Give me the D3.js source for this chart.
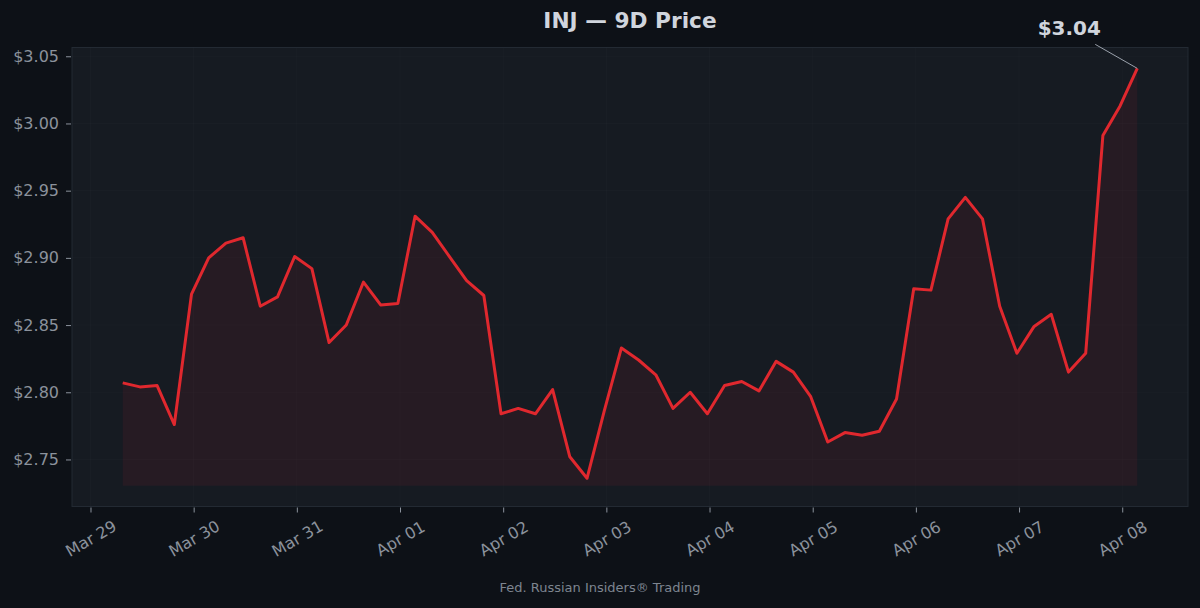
<!DOCTYPE html>
<html>
<head>
<meta charset="utf-8">
<script src="https://cdn.jsdelivr.net/npm/d3@7"></script>
<style>
	html, body { margin: 0; padding: 0; background: #0d1117; }
	svg { display: block; font-family: "DejaVu Sans", sans-serif; }
</style>
</head>
<body>
<svg id="chart" width="1200" height="608"></svg>
<script>
// INJ price, one sample every 4 hours
var symbol = 'INJ';
var startTime = '2025-03-29T07:30:00Z';
var stepHours = 4;
var prices = [
	2.807, 2.804, 2.805, 2.776, 2.873, 2.900, 2.911, 2.915, 2.864, 2.871,
	2.901, 2.892, 2.837, 2.850, 2.882, 2.865, 2.866, 2.931, 2.919, 2.901,
	2.883, 2.872, 2.784, 2.788, 2.784, 2.802, 2.752, 2.736, 2.786, 2.833,
	2.824, 2.813, 2.788, 2.800, 2.784, 2.805, 2.808, 2.801, 2.823, 2.815,
	2.797, 2.763, 2.770, 2.768, 2.771, 2.795, 2.877, 2.876, 2.929, 2.945,
	2.929, 2.864, 2.829, 2.849, 2.858, 2.815, 2.829, 2.991, 3.013, 3.041
];
var yTickValues = [2.75, 2.80, 2.85, 2.90, 2.95, 3.00, 3.05];
var xTickDays = ['2025-03-29', '2025-03-30', '2025-03-31', '2025-04-01', '2025-04-02', '2025-04-03',
	'2025-04-04', '2025-04-05', '2025-04-06', '2025-04-07', '2025-04-08'];
var titleText = 'INJ — 9D Price';
var footerText = 'Fed. Russian Insiders® Trading';
var watermarkText = 'Fed. Russian Insiders';

var panel = {left: 72, right: 1188, top: 47.5, bottom: 506.5};

var t0 = new Date(startTime).getTime();
var points = prices.map(function (p, i) {
	return {t: new Date(t0 + i * stepHours * 3600 * 1000), v: p};
});

// fill floor sits a little under the lowest price
var floor = d3.min(prices) * 0.998;

var tFirst = points[0].t.getTime();
var tLast = points[points.length - 1].t.getTime();
var tPad = (tLast - tFirst) * 0.05;
var x = d3.scaleUtc()
	.domain([new Date(tFirst - tPad), new Date(tLast + tPad)])
	.range([panel.left, panel.right]);

var vMax = d3.max(prices);
var vPad = (vMax - floor) * 0.05;
var y = d3.scaleLinear()
	.domain([floor - vPad, vMax + vPad])
	.range([panel.bottom, panel.top]);

var svg = d3.select('#chart');

svg.append('rect')
	.attr('width', 1200)
	.attr('height', 608)
	.attr('fill', '#0d1117');

svg.append('rect')
	.attr('x', panel.left)
	.attr('y', panel.top)
	.attr('width', panel.right - panel.left)
	.attr('height', panel.bottom - panel.top)
	.attr('fill', '#161b22')
	.attr('stroke', '#232a33')
	.attr('stroke-width', 1);

// faint grid
var grid = svg.append('g').attr('class', 'grid');
grid.selectAll('.hgrid')
	.data(yTickValues)
	.enter()
	.append('line')
	.attr('class', 'hgrid')
	.attr('x1', panel.left)
	.attr('x2', panel.right)
	.attr('y1', function (d) { return y(d); })
	.attr('y2', function (d) { return y(d); })
	.attr('stroke', '#ffffff')
	.attr('stroke-opacity', 0.02);

var xTicks = xTickDays.map(function (d) { return new Date(d + 'T00:00:00Z'); });
grid.selectAll('.vgrid')
	.data(xTicks)
	.enter()
	.append('line')
	.attr('class', 'vgrid')
	.attr('y1', panel.top)
	.attr('y2', panel.bottom)
	.attr('x1', function (d) { return x(d); })
	.attr('x2', function (d) { return x(d); })
	.attr('stroke', '#ffffff')
	.attr('stroke-opacity', 0.02);

// watermark
svg.append('text')
	.attr('transform', 'translate(' + ((panel.left + panel.right) / 2 + 10) + ',' + ((panel.top + panel.bottom) / 2 - 10) + ') rotate(-30)')
	.attr('text-anchor', 'middle')
	.attr('dominant-baseline', 'central')
	.attr('font-size', 46)
	.attr('fill', '#ffffff')
	.attr('fill-opacity', 0.025)
	.text(watermarkText);

var area = d3.area()
	.x(function (d) { return x(d.t); })
	.y0(y(floor))
	.y1(function (d) { return y(d.v); });

var line = d3.line()
	.x(function (d) { return x(d.t); })
	.y(function (d) { return y(d.v); });

svg.append('path')
	.datum(points)
	.attr('d', area)
	.attr('fill', '#e0282e')
	.attr('fill-opacity', 0.08);

svg.append('path')
	.datum(points)
	.attr('d', line)
	.attr('fill', 'none')
	.attr('stroke', '#e0282e')
	.attr('stroke-width', 3)
	.attr('stroke-linejoin', 'round');

// y axis
var yAxis = d3.axisLeft(y)
	.tickValues(yTickValues)
	.tickSize(5)
	.tickPadding(7)
	.tickFormat(function (d) { return '$' + d.toFixed(2); });

var yg = svg.append('g')
	.attr('transform', 'translate(' + (panel.left - 1) + ',0)')
	.call(yAxis);
yg.select('.domain').remove();
yg.selectAll('.tick line').attr('stroke', '#8b929c');
yg.selectAll('.tick text')
	.attr('fill', '#8b929c')
	.attr('font-size', 16)
	.attr('font-family', '"DejaVu Sans", sans-serif');

// x axis
var xAxis = d3.axisBottom(x)
	.tickValues(xTicks)
	.tickSize(5)
	.tickFormat(d3.utcFormat('%b %d'));

var xg = svg.append('g')
	.attr('transform', 'translate(0,' + (panel.bottom + 1) + ')')
	.call(xAxis);
xg.select('.domain').remove();
xg.selectAll('.tick line').attr('stroke', '#8b929c');
xg.selectAll('.tick text')
	.attr('fill', '#8b929c')
	.attr('font-size', 16)
	.attr('font-family', '"DejaVu Sans", sans-serif')
	.attr('text-anchor', 'middle')
	.attr('y', 0)
	.attr('dy', '0.35em')
	.attr('transform', 'translate(0,31) rotate(-30)');

// title
svg.append('text')
	.attr('x', (panel.left + panel.right) / 2)
	.attr('y', 28)
	.attr('text-anchor', 'middle')
	.attr('font-size', 21.7)
	.attr('font-weight', 'bold')
	.attr('fill', '#d0d5dd')
	.text(titleText);

// last price callout
var last = points[points.length - 1];
var lx = x(last.t);
var ly = y(last.v);
svg.append('line')
	.attr('x1', lx - 42)
	.attr('y1', ly - 24)
	.attr('x2', lx)
	.attr('y2', ly)
	.attr('stroke', '#9aa1ab')
	.attr('stroke-width', 1);
svg.append('text')
	.attr('x', lx - 68)
	.attr('y', ly - 33)
	.attr('text-anchor', 'middle')
	.attr('font-size', 20)
	.attr('font-weight', 'bold')
	.attr('fill', '#d0d5dd')
	.text('$' + last.v.toFixed(2));

// footer
svg.append('text')
	.attr('x', 600)
	.attr('y', 592)
	.attr('text-anchor', 'middle')
	.attr('font-size', 13)
	.attr('fill', '#7d8590')
	.text(footerText);
</script>
</body>
</html>
